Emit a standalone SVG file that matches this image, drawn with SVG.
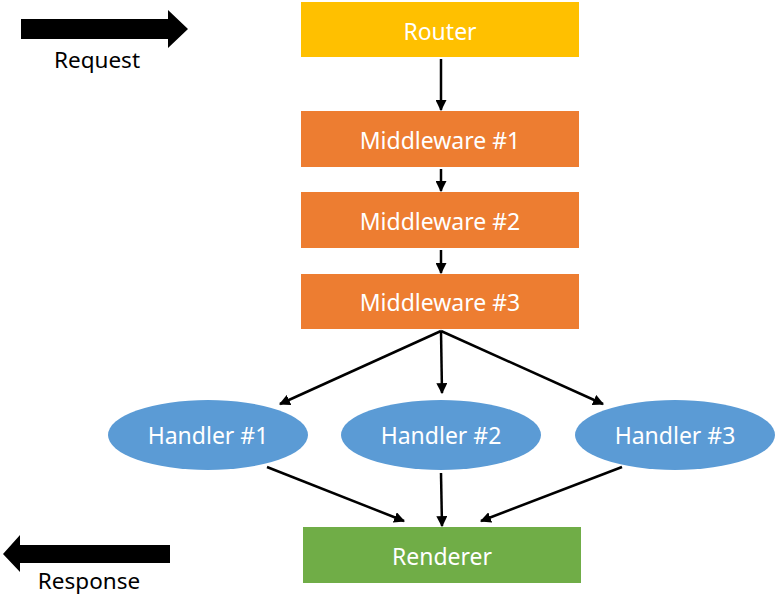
<svg xmlns="http://www.w3.org/2000/svg" width="777" height="610" viewBox="0 0 777 610">
<defs>
<marker id="ah" viewBox="0 0 10 10" refX="9" refY="5" markerWidth="4.4" markerHeight="4.4" orient="auto" markerUnits="strokeWidth">
<path d="M0,0 L10,5 L0,10 z" fill="#000"/>
</marker>
<style>
.lbl{font-family:"Noto Sans","Open Sans",sans-serif;font-size:23px;fill:#fff;text-anchor:middle;dominant-baseline:central}
.cap{font-family:"Noto Sans","Open Sans",sans-serif;font-size:22.5px;fill:#000;text-anchor:middle}
.mw{fill:#ED7D31}
.hd{fill:#5B9BD5}
.cn{stroke:#000;stroke-width:2.5;fill:none;marker-end:url(#ah)}
</style>
</defs>
<rect width="777" height="610" fill="#fff"/>
<g id="request">
<polygon points="21,19 168,19 168,10 188,29 168,48 168,39 21,39" fill="#000"/>
<text class="cap" x="97" y="68">Request</text>
</g>
<g id="response">
<polygon points="170,545 20,545 20,535 3,554 20,572 20,563 170,563" fill="#000"/>
<text class="cap" x="89" y="589">Response</text>
</g>
<g id="router">
<rect x="301" y="2" width="278" height="55" fill="#FFC000"/>
<text class="lbl" x="440" y="31">Router</text>
</g>
<g id="mw1">
<rect class="mw" x="301" y="111" width="278" height="56"/>
<text class="lbl" x="440" y="140">Middleware #1</text>
</g>
<g id="mw2">
<rect class="mw" x="301" y="192" width="278" height="56"/>
<text class="lbl" x="440" y="221">Middleware #2</text>
</g>
<g id="mw3">
<rect class="mw" x="301" y="274" width="278" height="55"/>
<text class="lbl" x="440" y="302">Middleware #3</text>
</g>
<g id="h1">
<ellipse class="hd" cx="208" cy="435" rx="100" ry="35"/>
<text class="lbl" x="208" y="435">Handler #1</text>
</g>
<g id="h2">
<ellipse class="hd" cx="441" cy="435" rx="100" ry="35"/>
<text class="lbl" x="441" y="435">Handler #2</text>
</g>
<g id="h3">
<ellipse class="hd" cx="675" cy="435" rx="100" ry="35"/>
<text class="lbl" x="675" y="435">Handler #3</text>
</g>
<g id="renderer">
<rect x="303" y="527" width="278" height="56" fill="#70AD47"/>
<text class="lbl" x="442" y="556">Renderer</text>
</g>
<g id="connectors">
<line class="cn" x1="441" y1="59" x2="441" y2="110"/>
<line class="cn" x1="441" y1="169" x2="441" y2="191"/>
<line class="cn" x1="441" y1="250" x2="441" y2="273"/>
<line class="cn" x1="441" y1="331" x2="280" y2="404"/>
<line class="cn" x1="441" y1="331" x2="442" y2="393"/>
<line class="cn" x1="441" y1="331" x2="603" y2="404"/>
<line class="cn" x1="267" y1="467" x2="404" y2="521"/>
<line class="cn" x1="441" y1="473" x2="442" y2="526"/>
<line class="cn" x1="622" y1="467" x2="481" y2="521"/>
</g>
</svg>
